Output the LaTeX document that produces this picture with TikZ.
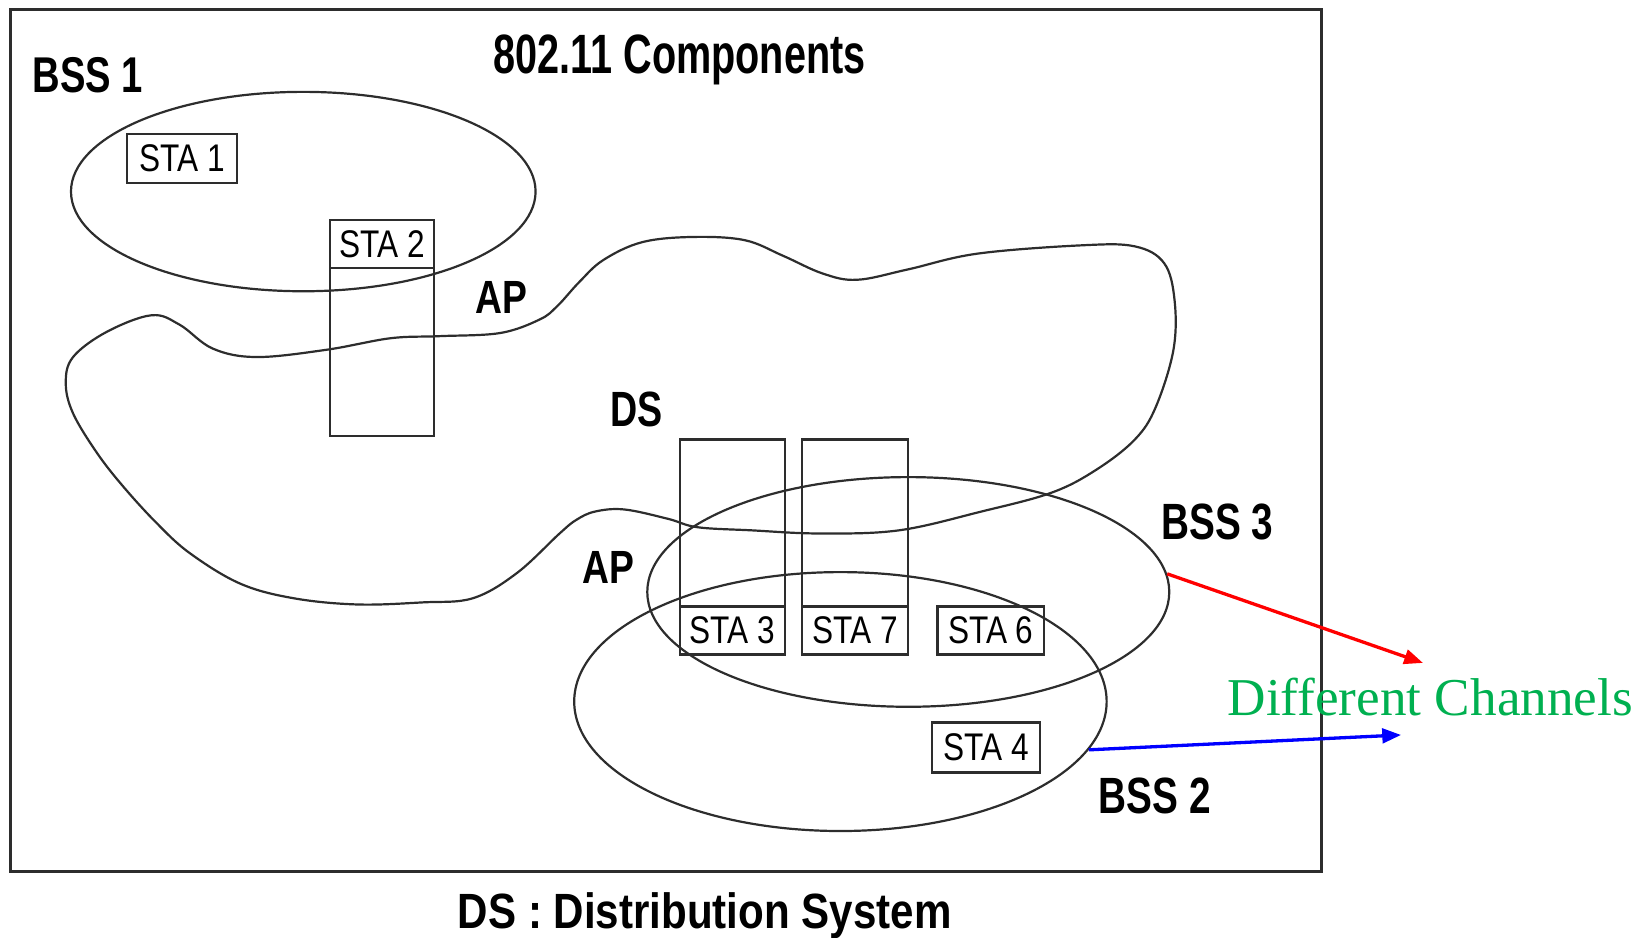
\documentclass[tikz,border=0pt]{standalone}
\usepackage{fontspec}
\setmainfont{Liberation Sans}
\newfontfamily\serifg{Liberation Serif}
\usetikzlibrary{shapes.geometric,arrows.meta}
\definecolor{ink}{RGB}{45,45,45}
\definecolor{chgreen}{RGB}{0,176,80}
\newcommand{\lbl}[3]{{\fontsize{#1}{#1}\selectfont\scalebox{#2}[1]{#3}}}
\newcommand{\sx}[1]{\scalebox{0.82}[1]{#1}}
\tikzset{
  lineart/.style={draw=ink, line width=0.6pt},
  stabox/.style={draw=ink, line width=0.6pt, rectangle, inner sep=0pt,
    font=\fontsize{10.5}{10.5}\selectfont},
  apbox/.style={draw=ink, line width=0.6pt, rectangle, inner sep=0pt},
  oval/.style={draw=ink, line width=0.6pt, ellipse, inner sep=0pt},
  bigl/.style={inner sep=0pt, anchor=base, font=\bfseries},
  chan/.style={line width=0.9pt, -{Triangle[length=1.8mm,width=1.4mm]}},
}
\begin{document}
\begin{tikzpicture}[x=0.1mm,y=-0.1mm]
\useasboundingbox (0,0) rectangle (1568,898);
% frame
\node[draw=ink, line width=0.9pt, rectangle, inner sep=0pt,
  minimum width=125.6mm, minimum height=82.6mm] (frame) at (638,422) {};
% DS blob
\draw[lineart] plot[smooth cycle, tension=0.6] coordinates {
 (63,367) (70,342) (102,318) (145,302) (172,311) (204,334) (246,342) (313,335)
 (374,324) (421,322) (479,319) (517,306) (534,293) (555,270) (578,249)
 (615,232) (663,227) (713,230) (750,245) (788,262) (821,268) (870,258) (936,243)
 (1036,235) (1087,236) (1115,252) (1125,287) (1124,335) (1107,390) (1087,421)
 (1050,450) (1007,472) (940,490) (861,508) (785,511) (720,508) (668,505)
 (640,497) (598,488) (570,490) (552,498) (536,511) (495,549) (453,573)
 (405,577) (342,579) (281,573) (230,559) (182,530) (150,501) (118,466)
 (93,434) (70,396)};
% ellipses (BSS)
\node[oval, minimum width=44.5mm, minimum height=19.1mm] (bss1e) at (290.5,183.5) {};
\node[oval, minimum width=50mm, minimum height=22mm] (bss3e) at (870,567) {};
\node[oval, minimum width=51mm, minimum height=24.8mm] (bss2e) at (805,672) {};
% stations
\node[stabox, minimum width=10.5mm, minimum height=4.7mm] (sta1) at (174.5,151.5) {\sx{STA 1}};
\node[stabox, minimum width=10mm, minimum height=4.6mm] (sta2) at (366,234) {\sx{STA 2}};
\node[apbox, minimum width=10mm, minimum height=16.1mm] (ap1) at (366,337.5) {};
\node[apbox, minimum width=10.1mm, minimum height=16mm] (ap3) at (701.5,501) {};
\node[stabox, minimum width=10.1mm, minimum height=4.6mm] (sta3) at (701.5,604) {\sx{STA 3}};
\node[apbox, minimum width=10.2mm, minimum height=16mm] (ap7) at (819,501) {};
\node[stabox, minimum width=10.2mm, minimum height=4.6mm] (sta7) at (819,604) {\sx{STA 7}};
\node[stabox, minimum width=10.2mm, minimum height=4.6mm] (sta6) at (949,604) {\sx{STA 6}};
\node[stabox, minimum width=10.3mm, minimum height=4.8mm] (sta4) at (944.5,716) {\sx{STA 4}};
% labels
\node[bigl] (title) at (651,70) {\lbl{15.1}{0.715}{802.11 Components}};
\node[bigl] (bss1) at (84,89) {\lbl{13.7}{0.76}{BSS 1}};
\node[bigl] (apup) at (480,300) {\lbl{12.7}{0.8}{AP}};
\node[bigl] (ds) at (610,409) {\lbl{13.5}{0.76}{DS}};
\node[bigl] (aplow) at (583,559) {\lbl{12.7}{0.8}{AP}};
\node[bigl] (bss3) at (1166,517) {\lbl{13.9}{0.76}{BSS 3}};
\node[bigl] (bss2) at (1106,779) {\lbl{13.9}{0.76}{BSS 2}};
\node[bigl] (legend) at (675,889) {\lbl{13.5}{0.85}{DS : Distribution System}};
\node[inner sep=0pt, anchor=base, text=chgreen, font=\serifg\fontsize{14.5}{14.5}\selectfont]
  (chtext) at (1370,685) {Different Channels};
% arrows
\coordinate (redend) at (1363,635);
\coordinate (blueend) at (1342,704);
\draw[chan, red] (bss3e.4) -- (redend);
\draw[chan, blue] (bss2e.-11) -- (blueend);
\end{tikzpicture}
\end{document}
